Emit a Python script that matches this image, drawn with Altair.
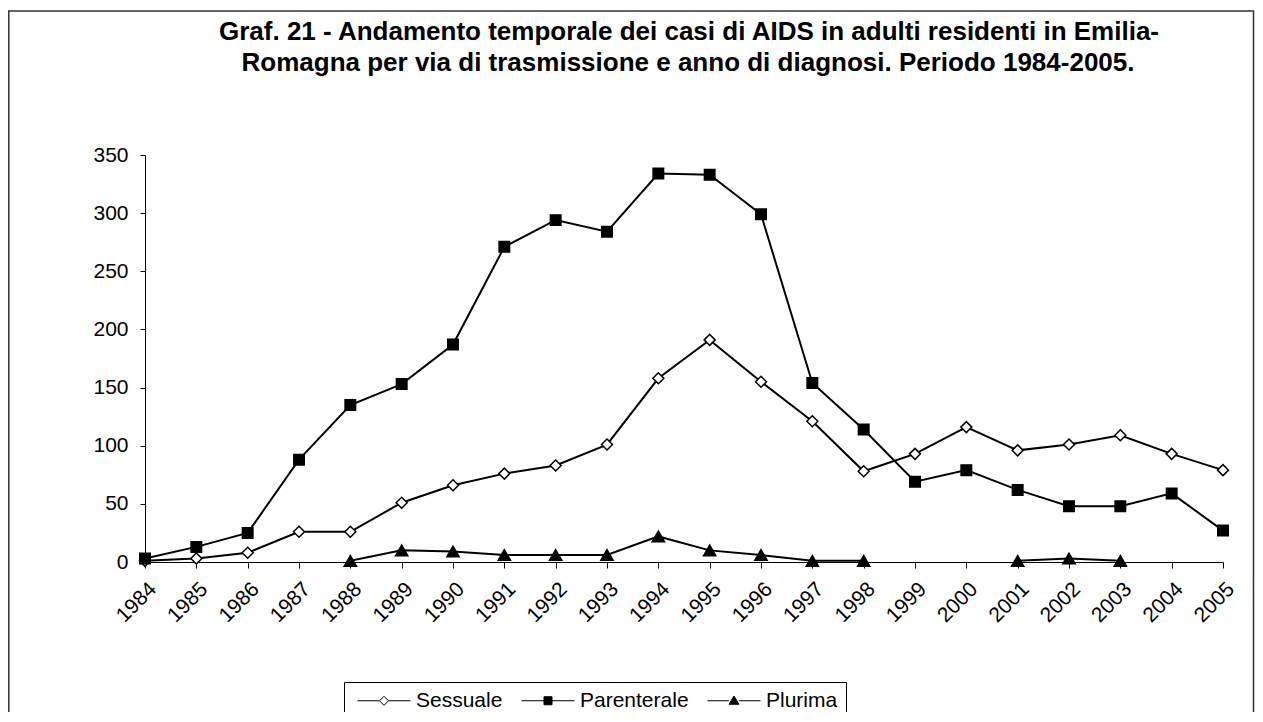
import altair as alt
import pandas as pd

years = [str(y) for y in range(1984, 2006)]
series_names = ["Sessuale", "Parenterale", "Plurima"]
sessuale = [1, 3, 8, 26, 26, 51, 66, 76, 83, 101, 158, 191, 155, 121, 78, 93, 116, 96, 101, 109, 93, 79]
parenterale = [3, 13, 25, 88, 135, 153, 187, 271, 294, 284, 334, 333, 299, 154, 114, 69, 79, 62, 48, 48, 59, 27]
plurima = [None, None, None, None, 1, 10, 9, 6, 6, 6, 22, 10, 6, 1, 1, None, None, 1, 3, 1, None, None]
title_lines = [
    "Graf. 21 - Andamento temporale dei casi di AIDS in adulti residenti in Emilia-",
    "Romagna per via di trasmissione e anno di diagnosi. Periodo 1984-2005.",
]
y_ticks = [0, 50, 100, 150, 200, 250, 300, 350]

rows = []
for name, vals in zip(series_names, [sessuale, parenterale, plurima]):
    seg = 0
    prev_none = True
    for yr, v in zip(years, vals):
        if v is None:
            prev_none = True
            continue
        if prev_none:
            seg += 1
        prev_none = False
        rows.append({"year": yr, "series": name, "value": v, "seg": f"{name}{seg}"})
df = pd.DataFrame(rows)

FONT = "Liberation Sans"
W, H = 1078, 407

x_enc = alt.X("year:O", sort=years, scale=alt.Scale(type="point", padding=0, domain=years),
              axis=alt.Axis(title=None, labelAngle=-45, labelFontSize=21, labelFont=FONT,
                            labelColor="black", tickColor="black", domainColor="black",
                            tickSize=6, labelPadding=10, grid=False))
y_enc = alt.Y("value:Q", scale=alt.Scale(domain=[0, 350], nice=False),
              axis=alt.Axis(title=None, values=y_ticks, labelFontSize=21, labelFont=FONT,
                            labelColor="black", tickColor="black", domainColor="black",
                            tickSize=5, labelPadding=12, grid=False))

base = alt.Chart(df)

lines = base.mark_line(color="black", strokeWidth=2).encode(x=x_enc, y=y_enc, detail="seg:N")

shapes = {"Sessuale": ("diamond", "white", 121), "Parenterale": ("square", "black", 110),
          "Plurima": ("triangle-up", "black", 150)}
point_layers = []
for name in series_names:
    shp, fillc, sz = shapes[name]
    point_layers.append(
        base.transform_filter(alt.datum.series == name)
        .mark_point(shape=shp, filled=True, fill=fillc, stroke="black", strokeWidth=1.5,
                    size=sz, opacity=1)
        .encode(x=x_enc, y=y_enc)
    )

# legend symbols: unit = 5px (symbolSize 100); line spans 53px, marker in its middle
legend_paths = [
    "M-1,0L3.4,0M3.4,0L4.3,-0.9L5.2,0L4.3,0.9ZM5.2,0L9.6,0",
    "M-1,0L3.5,0M3.5,-0.8L5.1,-0.8L5.1,0.8L3.5,0.8ZM5.1,0L9.6,0",
    "M-1,0L3.3,0M4.3,-0.95L5.3,0.7L3.3,0.7ZM5.3,0L9.6,0",
]
leg = alt.Legend(title=None, orient="none", legendX=199, legendY=527, direction="horizontal",
                 strokeColor="black", padding=8, labelFontSize=21, labelFont=FONT,
                 labelColor="black", columnPadding=13, labelOffset=43, symbolSize=100,
                 symbolStrokeColor="black", symbolStrokeWidth=1)
legend_layer = (
    base.transform_filter("datum.value < 0")
    .mark_point(filled=True, strokeWidth=1, opacity=1)
    .encode(
        x=x_enc, y=y_enc,
        shape=alt.Shape("series:N", scale=alt.Scale(domain=series_names, range=legend_paths), legend=leg),
        fill=alt.Fill("series:N", scale=alt.Scale(domain=series_names, range=["white", "black", "black"]), legend=leg),
        stroke=alt.Stroke("series:N", scale=alt.Scale(domain=series_names, range=["black", "black", "black"]), legend=leg),
    )
)

title1 = alt.Chart(pd.DataFrame({"t": [title_lines[0]]})).mark_text(
    font=FONT, fontSize=26, fontWeight="bold", align="center", baseline="alphabetic", color="black"
).encode(x=alt.value(544), y=alt.value(-115), text="t:N")
title2 = alt.Chart(pd.DataFrame({"t": [title_lines[1]]})).mark_text(
    font=FONT, fontSize=26, fontWeight="bold", align="center", baseline="alphabetic", color="black"
).encode(x=alt.value(543), y=alt.value(-84), text="t:N")

frame = alt.Chart(pd.DataFrame({"a": [0]})).mark_rect(
    fill="transparent", stroke="#333333", strokeWidth=1.5
).encode(x=alt.value(-136.2), x2=alt.value(1246 - 137 - 0.5), y=alt.value(-144), y2=alt.value(700))

chart = alt.layer(frame, lines, *point_layers, legend_layer, title1, title2).resolve_scale(
    shape="independent", fill="independent", stroke="independent"
).properties(
    width=W, height=H,
    autosize=alt.AutoSizeParams(type="none"),
    padding={"left": 137, "top": 147, "right": 32, "bottom": 150},
).configure_view(strokeWidth=0)

chart.save("out.html", embed_options={"renderer": "svg", "actions": False})
